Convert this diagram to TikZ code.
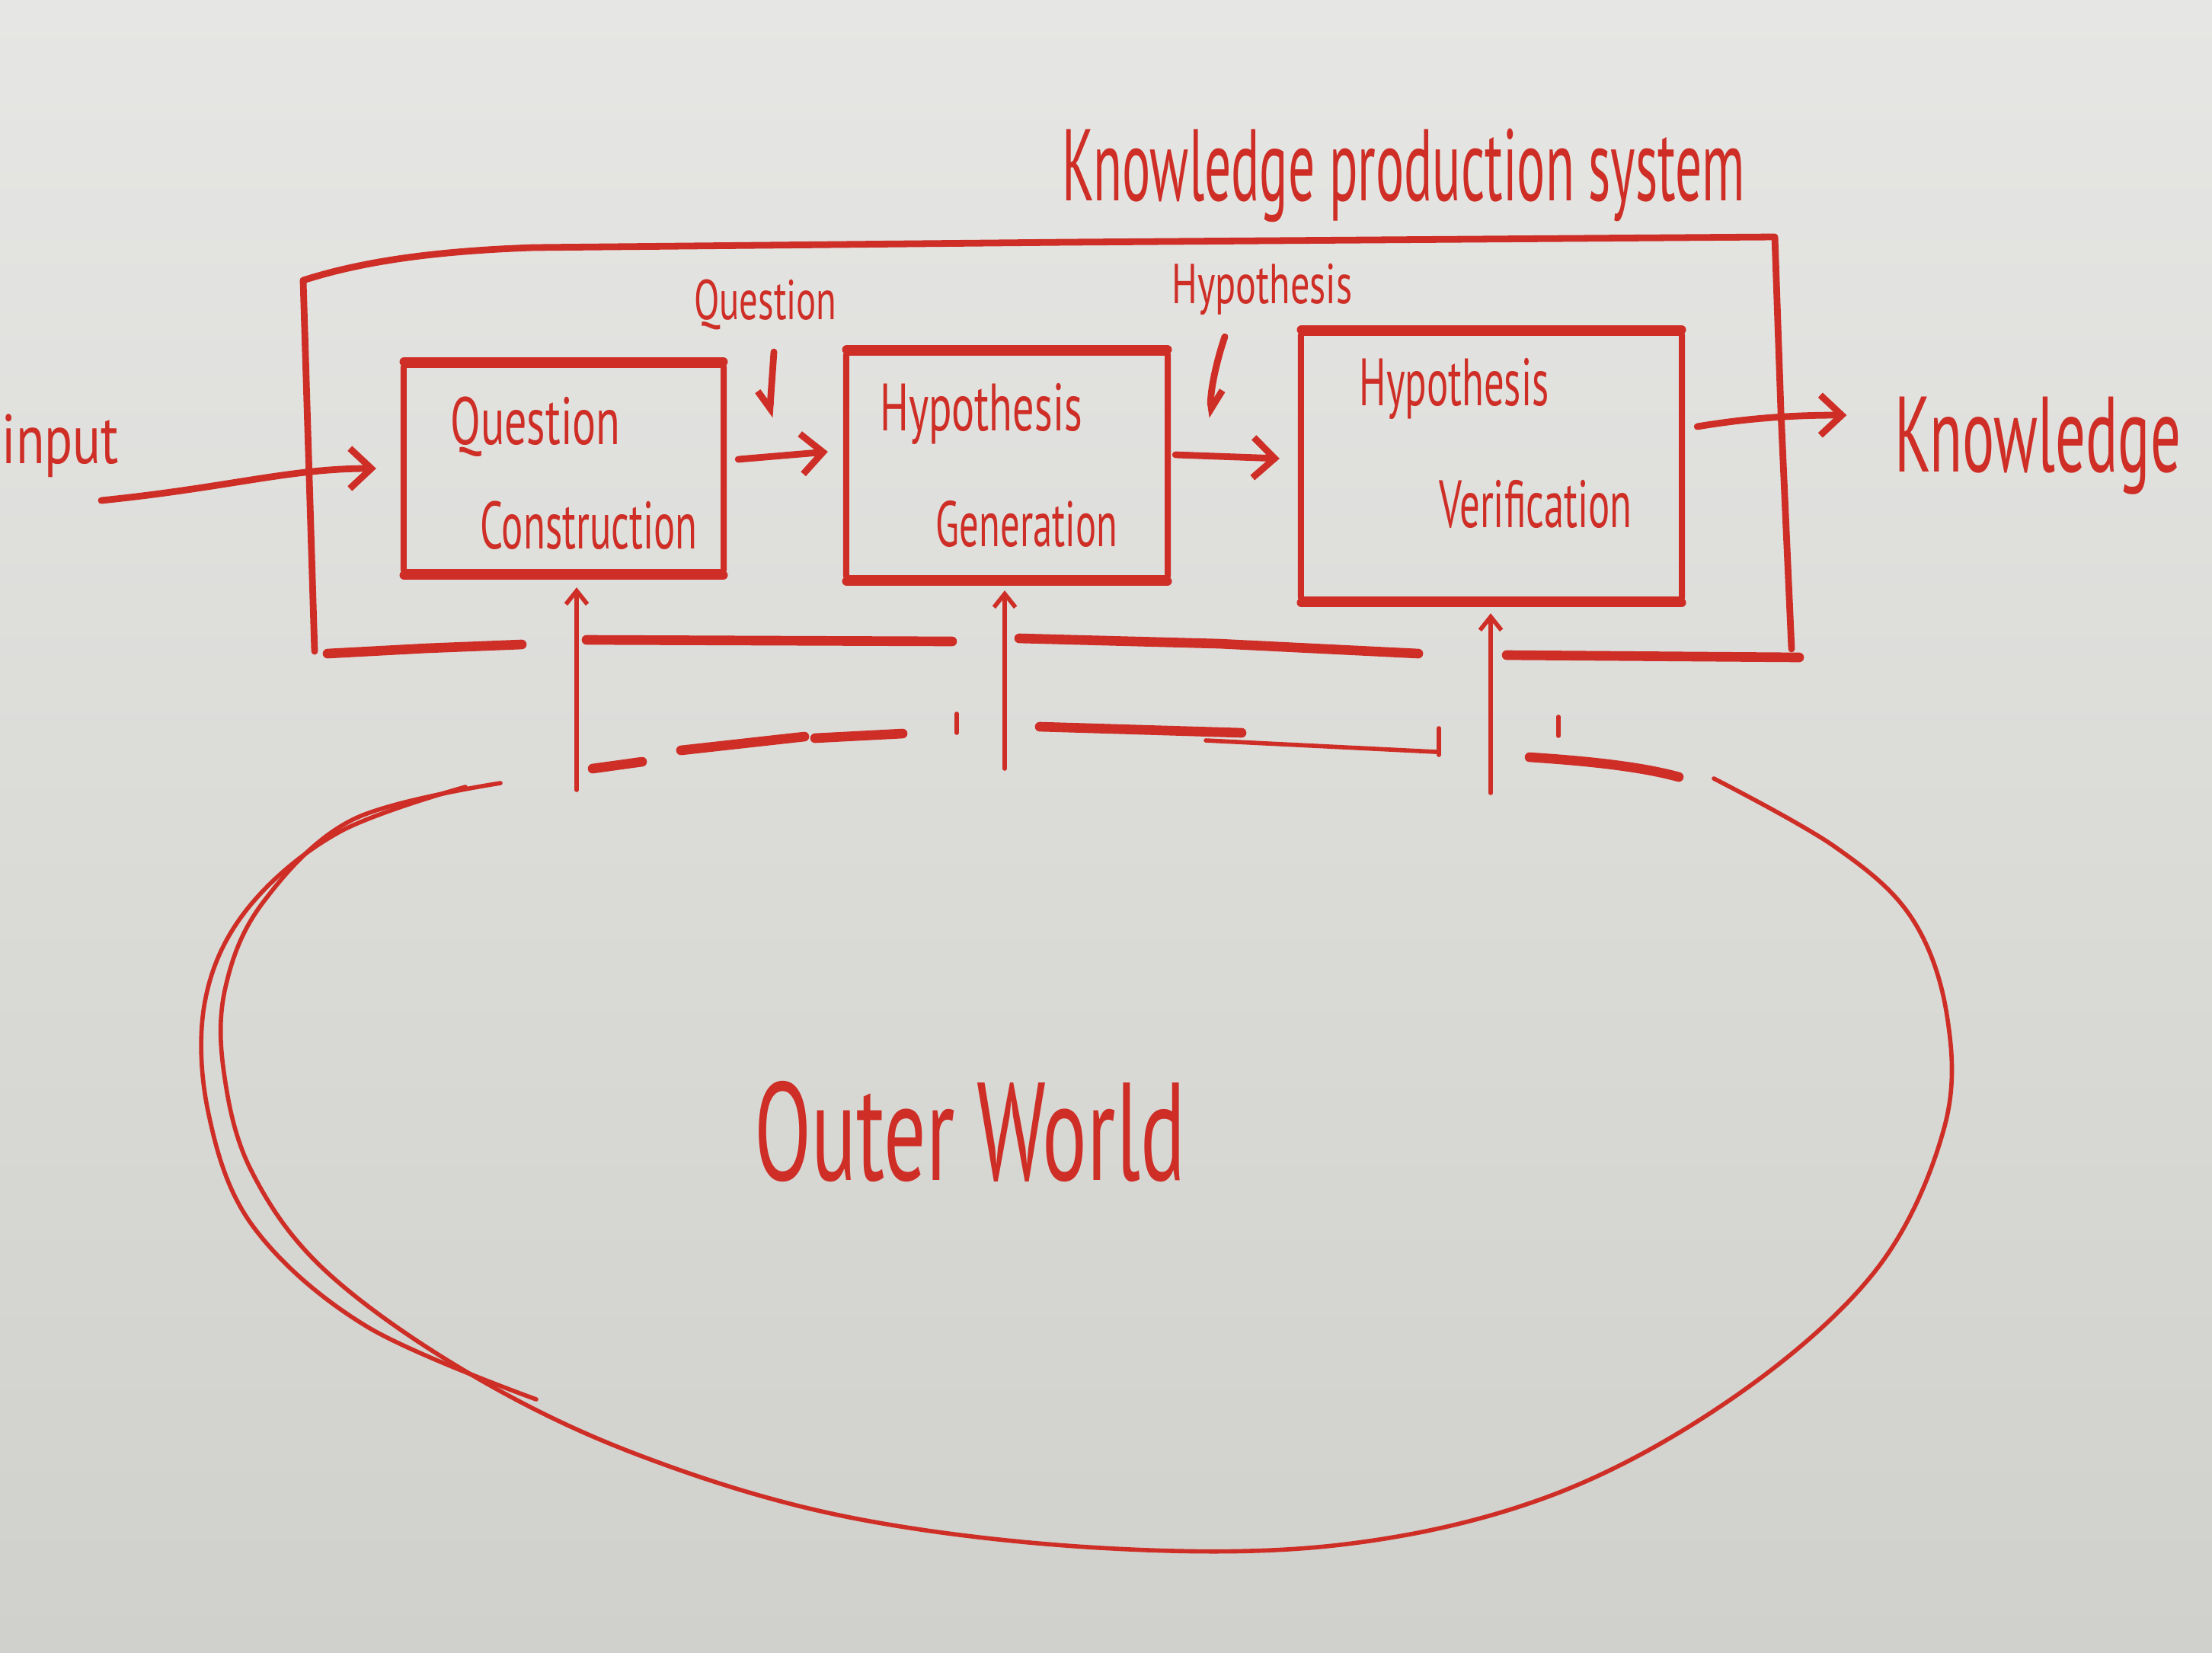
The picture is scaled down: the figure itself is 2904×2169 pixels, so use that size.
\documentclass[tikz,border=0pt]{standalone}
\usepackage{fontspec}
\setmainfont{PT Sans}
\usetikzlibrary{arrows.meta,calc}
\definecolor{marker}{RGB}{206,46,38}
\definecolor{boardtop}{RGB}{230,230,228}
\definecolor{boardbot}{RGB}{208,208,204}
\newcommand{\handtext}[3]{\scalebox{#1}[1]{\fontsize{#2}{#2}\selectfont #3}}
\begin{document}
\begin{tikzpicture}[x=0.01cm,y=-0.01cm,
  ink/.style={draw=marker, line cap=round, line join=round},
  thinink/.style={ink, line width=1.6pt},
  midink/.style={ink, line width=2.5pt},
  thickink/.style={ink, line width=3.6pt},
  stagebox/.style={draw=marker, line width=2.3pt, rounded corners=1pt, inner sep=0pt},
  hand/.style={text=marker, inner sep=0pt},
  barb/.style={-{Straight Barb[length=8pt,width=15pt]}},
  smallbarb/.style={-{Straight Barb[length=5pt,width=8pt,line width=1.6pt]}},
  lhook/.style={-{Straight Barb[right,length=6pt,width=10pt]}},
  rhook/.style={-{Straight Barb[left,length=6pt,width=10pt]}}
]
\shade[top color=boardtop, bottom color=boardbot] (0,0) rectangle (2904,2169);
\useasboundingbox (0,0) rectangle (2904,2169);

% title
\node[hand] (title) at (1843,230) {\handtext{0.52}{38}{Knowledge production system}};

% outer box (knowledge production system)
\draw[midink] (413,855) -- (398,368) .. controls (470,345) and (560,330) .. (700,325)
  -- (1400,318) -- (2330,311) -- (2338,540) -- (2352,852);
\draw[thickink] (430,858) -- (560,851) -- (685,846);
\draw[thickink] (770,840) -- (1250,842);
\draw[thickink] (1338,838) -- (1600,845) -- (1862,858);
\draw[thickink] (1978,860) -- (2362,863);

% stage boxes
\node[stagebox, minimum width=4.2cm, minimum height=2.72cm] (qc) at (740,615) {};
\node[stagebox, minimum width=4.22cm, minimum height=2.96cm] (hg) at (1322,611) {};
\node[stagebox, minimum width=5.0cm, minimum height=3.5cm] (hv) at (1958,612) {};
\foreach \b in {qc,hg,hv}{
  \draw[thickink] ($(\b.north west)+(5,0)$) -- ($(\b.north east)+(-5,0)$);
  \draw[thickink] ($(\b.south west)+(5,0)$) -- ($(\b.south east)+(-5,0)$);
}

% box texts
\node[hand] (q1) at (703,560) {\handtext{0.66}{25}{Question}};
\node[hand] (q2) at (773,690) {\handtext{0.6}{25}{Construction}};
\node[hand] (h1) at (1288,543) {\handtext{0.64}{25}{Hypothesis}};
\node[hand] (h2) at (1348,688) {\handtext{0.6}{24}{Generation}};
\node[hand] (v1) at (1909,510) {\handtext{0.6}{25}{Hypothesis}};
\node[hand] (v2) at (2016,662) {\handtext{0.6}{25}{Verification}};

% labels between boxes
\node[hand] (ql) at (1005,400) {\handtext{0.66}{21}{Question}};
\node[hand] (hl) at (1657,380) {\handtext{0.68}{21}{Hypothesis}};
\coordinate (qa) at (1016,462);
\coordinate (qb) at (1010,548);
\draw[midink, lhook] (qa) -- (qb);
\coordinate (ha) at (1608,442);
\coordinate (hb) at (1592,548);
\draw[midink, rhook] (ha) .. controls (1595,480) and (1588,520) .. (hb);

% input and knowledge
\node[hand, anchor=west] (in) at (2,585) {\handtext{0.75}{26}{input}};
\node[hand] (kn) at (2675,585) {\handtext{0.56}{40}{Knowledge}};
\coordinate (inS) at (133,657);

% flow arrows
\draw[midink, barb] (inS) .. controls (300,640) and (380,615) .. ($(qc.west)+(-32,0)$);
\draw[midink, barb] ($(qc.east)+(15,-12)$) -- ($(hg.west)+(-20,-18)$);
\draw[midink, barb] ($(hg.east)+(6,-14)$) -- ($(hv.west)+(-24,-10)$);
\draw[midink, barb] ($(hv.east)+(16,-52)$) .. controls (2300,548) and (2360,545) .. ($(kn.west)+(-62,-40)$);

% outer world boundary (dashed top)
\draw[thickink] (778,1009) -- (843,1000);
\draw[thickink] (894,985) -- (1056,967);
\draw[thickink] (1070,969) -- (1185,963);
\draw[thinink] (1256,937) -- (1256,962);
\draw[thickink] (1365,954) -- (1630,962);
\draw[thinink] (1583,972) -- (1885,987);
\draw[thinink] (1889,956) -- (1889,991);
\draw[thinink] (2046,941) -- (2046,966);
\draw[thickink] (2008,994) .. controls (2100,1000) and (2160,1008) .. (2204,1020);

% up arrows from outer world
\coordinate (w1) at (757,1037);
\coordinate (w2) at (1319,1009);
\coordinate (w3) at (1957,1041);
\draw[thinink, smallbarb] (w1) -- ($(w1 |- qc.south)+(0,16)$);
\draw[thinink, smallbarb] (w2) -- ($(w2 |- hg.south)+(0,12)$);
\draw[thinink, smallbarb] (w3) -- ($(w3 |- hv.south)+(0,14)$);

% outer world ellipse
\draw[thinink] plot[smooth, tension=0.6] coordinates {
 (657,1028) (463,1076) (345,1185) (296,1296) (294,1408) (330,1537) (426,1667)
 (611,1800) (833,1908) (1111,1991) (1445,2032) (1759,2028) (2037,1963)
 (2278,1833) (2463,1667) (2552,1482) (2556,1333) (2509,1204) (2408,1111) (2250,1022)};
\draw[thinink] plot[smooth, tension=0.6] coordinates {
 (611,1033) (444,1093) (324,1194) (269,1315) (274,1463) (333,1611) (481,1741) (704,1837)};

\node[hand] (ow) at (1273,1485) {\handtext{0.6}{52}{Outer World}};
\end{tikzpicture}
\end{document}
